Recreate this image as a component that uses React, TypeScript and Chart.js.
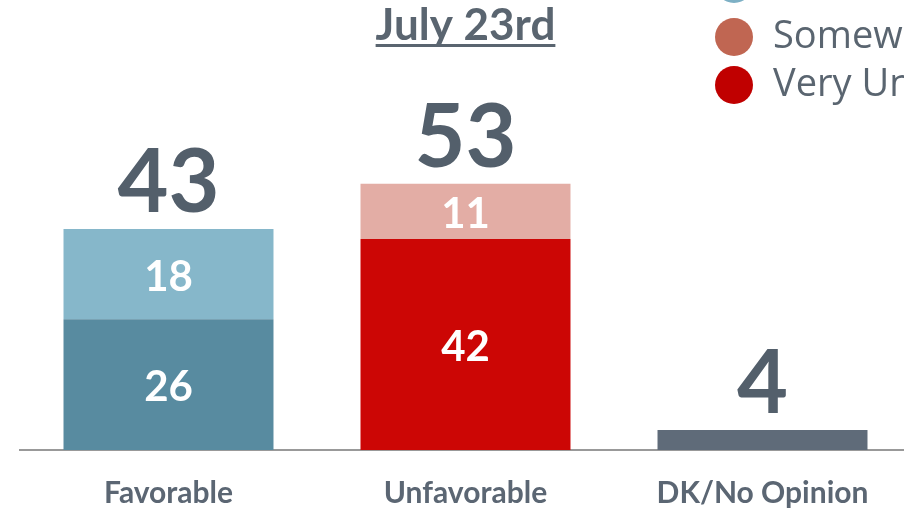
import React, { useEffect, useRef } from "react";
import { Chart, registerables } from "chart.js";

Chart.register(...registerables);

const categories = ["Favorable", "Unfavorable", "DK/No Opinion"];
const veryFavorable = [26, null, null];
const somewhatFavorable = [18, null, null];
const veryUnfavorable = [null, 42, null];
const somewhatUnfavorable = [null, 11, null];
const dkNoOpinion = [null, null, 4];
const totals = [43, 53, 4];

const titleText = "July 23rd";
const legendLabels = ["Very Favorable", "Somewhat Favorable", "Somewhat Unfavorable", "Very Unfavorable"];
const legendColors = ["#5889A0", "#7DB0C5", "#C06652", "#C00000"];

const TEXT_DARK = "#535F6B";
const FONT = "Lato, 'Open Sans', sans-serif";
const LEGEND_FONT = "'Open Sans', Lato, sans-serif";

const overlayPlugin = {
  id: "overlay",
  afterDatasetsDraw(chart: any) {
    const ctx = chart.ctx;
    const metas = chart.getSortedVisibleDatasetMetas();
    ctx.save();
    // segment labels
    metas.forEach((meta: any) => {
      const ds = chart.data.datasets[meta.index];
      if (!ds.inside) return;
      meta.data.forEach((el: any, i: number) => {
        const v = ds.data[i];
        if (v === null || v === undefined) return;
        const p = el.getProps(["x", "y", "base"], true);
        ctx.fillStyle = "#FFFFFF";
        ctx.font = `bold 42px ${FONT}`;
        ctx.textAlign = "center";
        ctx.textBaseline = "middle";
        ctx.fillText(String(v), p.x, (p.y + p.base) / 2 + 3);
      });
    });
    // totals
    categories.forEach((_, i) => {
      let top = Infinity;
      let x = 0;
      metas.forEach((meta: any) => {
        const v = chart.data.datasets[meta.index].data[i];
        if (v === null || v === undefined) return;
        const p = meta.data[i].getProps(["x", "y"], true);
        x = p.x;
        top = Math.min(top, p.y);
      });
      if (top === Infinity) return;
      ctx.fillStyle = TEXT_DARK;
      ctx.font = `bold 88px ${FONT}`;
      ctx.textAlign = "center";
      ctx.textBaseline = "alphabetic";
      ctx.fillText(String(totals[i]), x, top - 17);
    });
    // title
    const xs = chart.scales.x;
    const cx = xs.getPixelForValue(1);
    ctx.fillStyle = "#5A6570";
    ctx.font = `bold 44px ${FONT}`;
    ctx.textAlign = "center";
    ctx.textBaseline = "alphabetic";
    ctx.fillText(titleText, cx, 40);
    const w = ctx.measureText(titleText).width;
    ctx.fillRect(cx - w / 2, 44, w, 3);
    // legend
    const ys = [-64, -16, 37, 85];
    legendLabels.forEach((lab, k) => {
      const cy = ys[k];
      ctx.beginPath();
      ctx.fillStyle = legendColors[k];
      ctx.arc(734, cy, 19, 0, Math.PI * 2);
      ctx.fill();
      ctx.fillStyle = "#5A6570";
      ctx.font = `38px ${LEGEND_FONT}`;
      ctx.textAlign = "left";
      ctx.textBaseline = "middle";
      ctx.fillText(lab, 773, cy);
    });
    ctx.restore();
  },
};

export default function App() {
  const ref = useRef<HTMLCanvasElement | null>(null);
  useEffect(() => {
    let chart: any = null;
    let cancelled = false;
    const make = () => {
      if (cancelled || !ref.current) return;
      chart = new Chart(ref.current, {
        type: "bar",
        data: {
          labels: categories,
          datasets: [
            { label: "Very Favorable", data: veryFavorable, backgroundColor: "#588BA0", inside: true } as any,
            { label: "Somewhat Favorable", data: somewhatFavorable, backgroundColor: "#86B7CA", inside: true } as any,
            { label: "Very Unfavorable", data: veryUnfavorable, backgroundColor: "#CC0605", inside: true } as any,
            { label: "Somewhat Unfavorable", data: somewhatUnfavorable, backgroundColor: "#E3ADA5", inside: true } as any,
            { label: "DK/No Opinion", data: dkNoOpinion, backgroundColor: "#5F6B79", inside: false } as any,
          ],
        },
        options: {
          responsive: false,
          animation: false,
          datasets: { bar: { categoryPercentage: 1, barPercentage: 0.707, borderWidth: 0 } },
          layout: { padding: { top: 48, left: 20, right: 89, bottom: 0 } },
          plugins: { legend: { display: false }, tooltip: { enabled: false }, title: { display: false } },
          scales: {
            x: {
              stacked: true,
              grid: { display: false, drawTicks: false },
              border: { display: true, color: "#999999", width: 2 },
              ticks: { font: { family: FONT, size: 30, weight: "bold" }, color: "#5B6673", padding: 25 },
              afterFit: (s: any) => {
                s.height = 63;
              },
            },
            y: { stacked: true, display: false, min: 0, max: 80 },
          },
        },
        plugins: [overlayPlugin],
      } as any);
    };
    const fonts: any = (document as any).fonts;
    if (fonts && fonts.load) {
      Promise.all([fonts.load(`bold 40px Lato`), fonts.load(`40px 'Open Sans'`)]).then(make, make);
    } else make();
    return () => {
      cancelled = true;
      if (chart) chart.destroy();
    };
  }, []);
  return (
    <div style={{ position: "absolute", left: 0, top: 0, width: 904, height: 513, overflow: "hidden", background: "#fff" }}>
      <canvas ref={ref} width={1000} height={513} style={{ display: "block" }} />
    </div>
  );
}
